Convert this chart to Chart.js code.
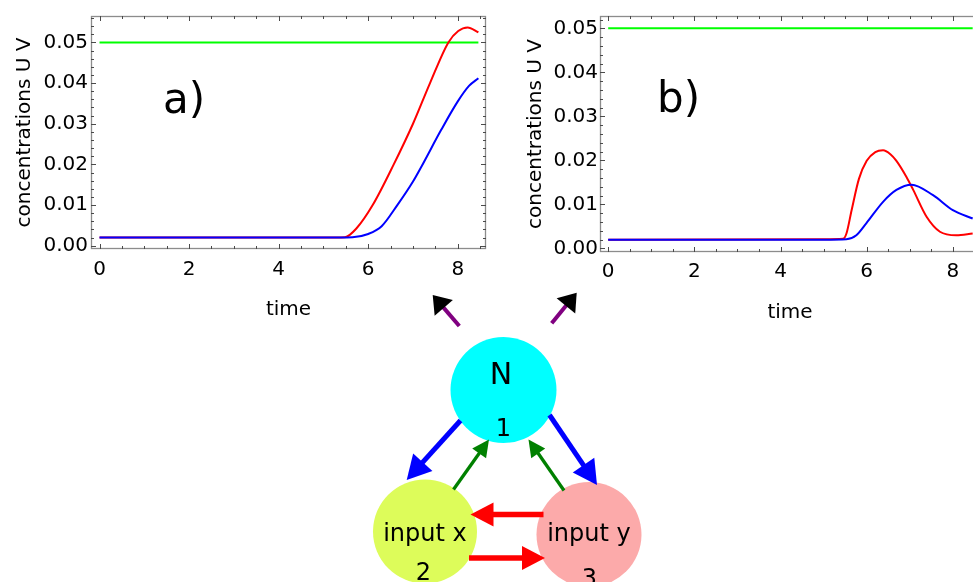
<!DOCTYPE html>
<html><head><meta charset="utf-8">
<script src="https://cdn.jsdelivr.net/npm/chart.js@4.4.1/dist/chart.umd.min.js"></script>
<style>
html,body{margin:0;padding:0;background:#fff;}
#wrap{position:relative;width:973px;height:582px;overflow:hidden;background:#fff;}
#ca{position:absolute;left:0;top:0;}
#cb{position:absolute;left:500px;top:0;}
#diag{position:absolute;left:0;top:0;}
</style></head><body>
<div id="wrap">
<canvas id="ca" width="500" height="330"></canvas>
<canvas id="cb" width="500" height="330"></canvas>
<svg id="diag" width="973" height="582" xmlns="http://www.w3.org/2000/svg"></svg>
</div>
<script>
// ---------- data ----------
const xTickValues = [0, 2, 4, 6, 8];
const xTickLabels = ['0', '2', '4', '6', '8'];
const yTickValues = [0, 0.01, 0.02, 0.03, 0.04, 0.05];
const yTickLabels = ['0.00', '0.01', '0.02', '0.03', '0.04', '0.05'];

// panel a)
const tRedA  = [0, 5.0, 5.48, 5.74, 6.1, 6.57, 7.0, 7.38, 7.79, 8.01, 8.22, 8.46];
const redA   = [0.002, 0.002, 0.0021, 0.0043, 0.01, 0.02, 0.03, 0.04, 0.05, 0.0528, 0.0537, 0.0525];
const tBlueA = [0, 5.0, 5.65, 6.0, 6.3, 6.65, 7.0, 7.19, 7.63, 8.0, 8.25, 8.46];
const blueA  = [0.002, 0.002, 0.0021, 0.0029, 0.0048, 0.01, 0.0158, 0.0195, 0.0285, 0.0355, 0.0393, 0.0412];
const tGreenA = [0, 8.46];
const greenA  = [0.05, 0.05];

// panel b)
const tRedB  = [0, 5.0, 5.45, 5.53, 5.65, 5.82, 6.0, 6.2, 6.38, 6.55, 6.69, 6.92, 7.08, 7.39, 7.70, 8.08, 8.46];
const redB   = [0.002, 0.0021, 0.0022, 0.0034, 0.0087, 0.0158, 0.0199, 0.0219, 0.0223, 0.0214, 0.0199, 0.0163, 0.0133, 0.0072, 0.0038, 0.0030, 0.0034];
const tBlueB = [0, 5.0, 5.53, 5.76, 5.99, 6.38, 6.69, 7.04, 7.54, 8.0, 8.46];
const blueB  = [0.002, 0.002, 0.0021, 0.003, 0.0057, 0.0106, 0.0133, 0.0145, 0.0121, 0.0087, 0.0068];
const tGreenB = [0, 8.46];
const greenB  = [0.05, 0.05];

const xTitle = 'time';
const yTitle = 'concentrations U V';

// ---------- chart helpers ----------
Chart.defaults.font.family = "'DejaVu Sans', sans-serif";
Chart.defaults.color = '#000';

function pts(ts, vs) { return ts.map((t, i) => ({x: t, y: vs[i]})); }

const frameTicks = {
  id: 'frameTicks',
  afterDraw(chart) {
    const {ctx, chartArea: {left, right, top, bottom}, scales: {x, y}} = chart;
    ctx.save();
    ctx.strokeStyle = '#8c8c8c';
    ctx.lineWidth = 1.3;
    ctx.strokeRect(left + 0.5, top + 0.5, right - left - 1, bottom - top - 1);
    ctx.strokeStyle = '#4a4a4a';
    ctx.lineWidth = 1;
    ctx.beginPath();
    for (let k = 0; k <= 17; k++) {
      const v = k * 0.5;
      const px = Math.round(x.getPixelForValue(v)) + 0.5;
      if (px < left || px > right) continue;
      const L = (k % 4 === 0) ? 5 : 3;
      ctx.moveTo(px, bottom); ctx.lineTo(px, bottom - L);
      ctx.moveTo(px, top); ctx.lineTo(px, top + L);
    }
    for (let k = 0; k <= 30; k++) {
      const v = k * 0.002;
      const py = Math.round(y.getPixelForValue(v)) + 0.5;
      if (py < top || py > bottom) continue;
      const L = (k % 5 === 0) ? 5 : 3;
      ctx.moveTo(left, py); ctx.lineTo(left + L, py);
      ctx.moveTo(right, py); ctx.lineTo(right - L, py);
    }
    ctx.stroke();
    ctx.restore();
  }
};

function makeChart(id, red, blue, green, o) {
  const ds = (data, color) => ({
    data, borderColor: color, backgroundColor: color, borderWidth: 2,
    pointRadius: 0, cubicInterpolationMode: 'monotone', fill: false
  });
  return new Chart(document.getElementById(id), {
    type: 'line',
    data: { datasets: [ds(blue, '#0000ff'), ds(red, '#ff0000'), ds(green, '#00ff00')] },
    options: {
      responsive: false, animation: false,
      layout: { padding: { left: 0, top: 16, right: o.padRight, bottom: 0 } },
      plugins: { legend: { display: false }, tooltip: { enabled: false } },
      scales: {
        x: {
          type: 'linear', min: -0.19, max: 8.63,
          grid: { display: false, drawTicks: false }, border: { display: false },
          afterBuildTicks: s => { s.ticks = xTickValues.map(v => ({value: v})); },
          afterFit: s => { s.height = o.xHeight; },
          ticks: { autoSkip: false, maxRotation: 0, padding: o.xPad, font: { size: 20 },
                   callback: (v, i) => xTickLabels[i] },
          title: { display: true, text: xTitle, font: { size: 20 }, padding: { top: 0, bottom: o.xTitlePad } }
        },
        y: {
          type: 'linear', min: -0.0008, max: o.yMax,
          grid: { display: false, drawTicks: false }, border: { display: false },
          afterBuildTicks: s => { s.ticks = yTickValues.map(v => ({value: v})); },
          afterFit: s => { s.width = o.yWidth; },
          ticks: { autoSkip: false, padding: o.yPad, font: { size: 20 },
                   callback: (v, i) => yTickLabels[i] },
          title: { display: true, text: yTitle, font: { size: 20 }, padding: { top: o.yTitlePad, bottom: 0 } }
        }
      }
    },
    plugins: [frameTicks]
  });
}

makeChart('ca', pts(tRedA, redA), pts(tBlueA, blueA), pts(tGreenA, greenA),
  { padRight: 14, xHeight: 81, xPad: 9, xTitlePad: 8, yWidth: 91, yPad: 3, yTitlePad: 13, yMax: 0.0565 });
makeChart('cb', pts(tRedB, redB), pts(tBlueB, blueB), pts(tGreenB, greenB),
  { padRight: 20, xHeight: 78, xPad: 8, xTitlePad: 5, yWidth: 100, yPad: 2, yTitlePad: 24, yMax: 0.0528 });

// ---------- network diagram (SVG) ----------
const NS = 'http://www.w3.org/2000/svg';
const svg = document.getElementById('diag');
function el(name, attrs, text) {
  const e = document.createElementNS(NS, name);
  for (const k in attrs) e.setAttribute(k, attrs[k]);
  if (text !== undefined) e.textContent = text;
  svg.appendChild(e);
  return e;
}
const FONT = "DejaVu Sans, sans-serif";

const panelLabels = [
  { text: 'a)', x: 163, y: 113 },
  { text: 'b)', x: 657, y: 112 }
];
const nodes = [
  { cx: 503.5, cy: 390, r: 53, fill: '#00ffff' },
  { cx: 425, cy: 531.5, r: 52, fill: '#ddfc5a' },
  { cx: 589, cy: 534.5, r: 52.5, fill: '#fcaaaa' }
];
const nodeTexts = [
  { text: 'N', x: 501, y: 384, size: 30 },
  { text: '1', x: 503.5, y: 436, size: 24 },
  { text: 'input x', x: 425, y: 541, size: 24 },
  { text: '2', x: 423.5, y: 580, size: 24 },
  { text: 'input y', x: 589, y: 541, size: 24 },
  { text: '3', x: 589.5, y: 586, size: 24 }
];
const arrows = [
  { x1: 460.5, y1: 420.5, x2: 406.7, y2: 480, c: '#0000ff', w: 5, hl: 24, hw: 26 },
  { x1: 549.5, y1: 415, x2: 597, y2: 485, c: '#0000ff', w: 5, hl: 24, hw: 26 },
  { x1: 453.5, y1: 489.5, x2: 489, y2: 439.5, c: '#008000', w: 3.3, hl: 17, hw: 17 },
  { x1: 564, y1: 490.5, x2: 528.5, y2: 439.5, c: '#008000', w: 3.3, hl: 17, hw: 17 },
  { x1: 543.5, y1: 514.5, x2: 470.5, y2: 514.5, c: '#ff0000', w: 5.5, hl: 23, hw: 24 },
  { x1: 469, y1: 558, x2: 545, y2: 558, c: '#ff0000', w: 5.5, hl: 23, hw: 24 },
  { x1: 459.3, y1: 326, x2: 432.7, y2: 295, c: '#800080', hc: '#000000', w: 4, hl: 17, hw: 24 },
  { x1: 551.7, y1: 323.3, x2: 576.7, y2: 292.7, c: '#800080', hc: '#000000', w: 4, hl: 17, hw: 24 }
];

for (const n of nodes) el('circle', { cx: n.cx, cy: n.cy, r: n.r, fill: n.fill });
for (const a of arrows) {
  const dx = a.x2 - a.x1, dy = a.y2 - a.y1, L = Math.hypot(dx, dy);
  const ux = dx / L, uy = dy / L, nx = -uy, ny = ux;
  const bx = a.x2 - ux * a.hl, by = a.y2 - uy * a.hl;
  el('line', { x1: a.x1, y1: a.y1, x2: bx + ux * 2, y2: by + uy * 2, stroke: a.c, 'stroke-width': a.w });
  const p = [[a.x2, a.y2], [bx + nx * a.hw / 2, by + ny * a.hw / 2], [bx - nx * a.hw / 2, by - ny * a.hw / 2]];
  el('polygon', { points: p.map(q => q.join(',')).join(' '), fill: a.hc || a.c });
}
for (const t of nodeTexts)
  el('text', { x: t.x, y: t.y, 'font-family': FONT, 'font-size': t.size, 'text-anchor': 'middle', fill: '#000' }, t.text);
for (const t of panelLabels)
  el('text', { x: t.x, y: t.y, 'font-family': FONT, 'font-size': 42, fill: '#000' }, t.text);
</script>
</body></html>
